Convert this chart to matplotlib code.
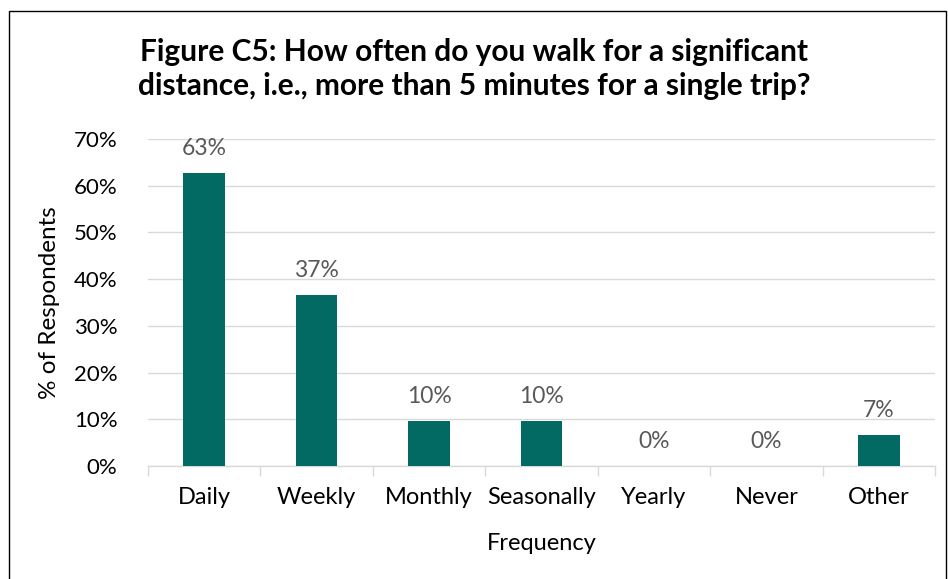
import matplotlib
matplotlib.use("Agg")
import matplotlib.pyplot as plt
from matplotlib.patches import Rectangle
import numpy as np

plt.rcParams['font.family'] = ['Lato', 'DejaVu Sans']

categories = ['Daily', 'Weekly', 'Monthly', 'Seasonally', 'Yearly', 'Never', 'Other']
values = [0.628, 0.366, 0.097, 0.097, 0.0, 0.0, 0.066]
yticks = [0, 0.1, 0.2, 0.3, 0.4, 0.5, 0.6, 0.7]

bar_color = '#036963'

fig = plt.figure(figsize=(9.48, 5.79), dpi=100)
ax = fig.add_axes([148/948, 1 - 466/579, (935-148)/948, (466-139)/579])

x = np.arange(len(categories))
ax.bar(x, values, width=0.37, color=bar_color, zorder=3)
for xi, v in zip(x, values):
    ax.annotate('{:.0f}%'.format(v*100), (xi, v), xytext=(0, 10),
                textcoords='offset points', ha='center', va='bottom',
                fontsize=16.5, color='#595959')

ax.set_xlim(-0.5, len(categories) - 0.5)
ax.set_ylim(0, 0.7)
ax.set_yticks(yticks)
ax.set_yticklabels(['{:.0f}%'.format(t*100) for t in yticks], fontsize=16)
ax.set_xticks(x)
ax.set_xticklabels(categories, fontsize=17)
ax.set_xticks(np.arange(len(categories) + 1) - 0.5, minor=True)
ax.tick_params(axis='x', which='major', length=0, pad=15)
ax.tick_params(axis='x', which='minor', length=7, color='#d9d9d9', width=1)
ax.tick_params(axis='y', length=0, pad=22)
ax.grid(axis='y', color='#d9d9d9', linewidth=1, zorder=0)
for s in ['top', 'right', 'left']:
    ax.spines[s].set_visible(False)
ax.spines['bottom'].set_color('#d9d9d9')
ax.spines['bottom'].set_linewidth(1)

ax.set_xlabel('Frequency', fontsize=17, labelpad=18)
ax.set_ylabel('% of Respondents', fontsize=17.5, labelpad=10)

fig.text(0.5, 1 - 69/579, 'Figure C5: How often do you walk for a significant\n'
         'distance, i.e., more than 5 minutes for a single trip?',
         ha='center', va='center', fontsize=21.5, fontweight='bold', linespacing=1.27)

fig.patches.append(Rectangle((9/948, -0.01), (946-9)/948, 1 - 11/579 + 0.01,
                             transform=fig.transFigure, fill=False,
                             edgecolor='black', linewidth=1))

fig.savefig('out.png', dpi=100)
